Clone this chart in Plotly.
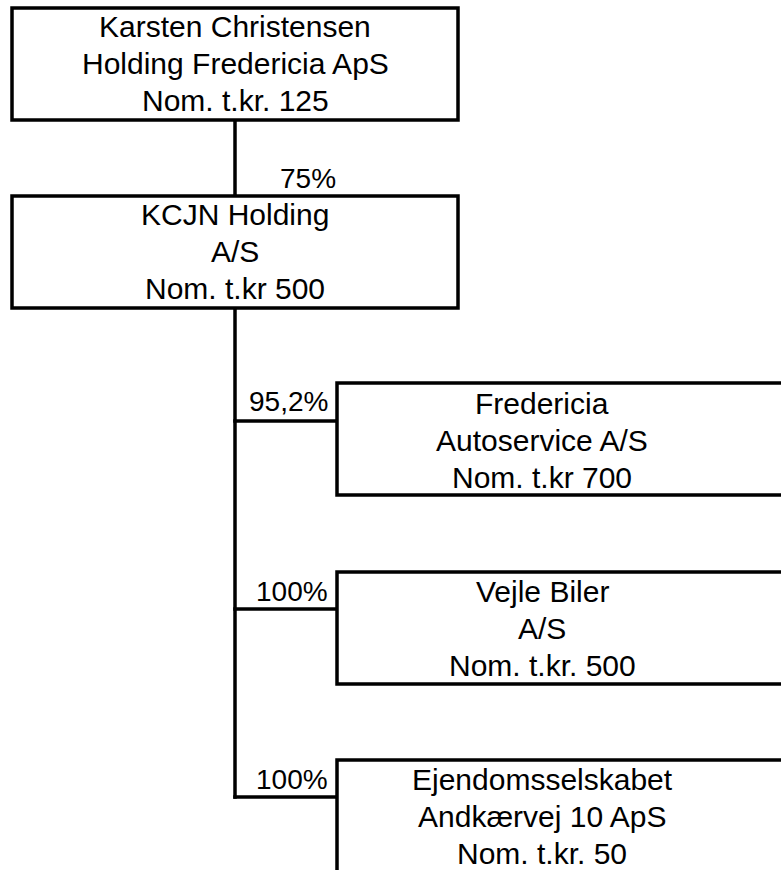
import plotly.graph_objects as go

# ---- data ----
entity_names = [
    ["Karsten Christensen", "Holding Fredericia ApS"],
    ["KCJN Holding", "A/S"],
    ["Fredericia", "Autoservice A/S"],
    ["Vejle Biler", "A/S"],
    ["Ejendomsselskabet", "Andkærvej 10 ApS"],
]
nominal_capital = ["Nom. t.kr. 125", "Nom. t.kr 500", "Nom. t.kr 700", "Nom. t.kr. 500", "Nom. t.kr. 50"]
ownership = [None, "75%", "95,2%", "100%", "100%"]
parent = [None, 0, 1, 1, 1]

# ---- layout (pixels) ----
W, H = 781, 870
boxes = [  # x0, y0, x1, y1
    (12, 8, 458, 120),
    (12, 196, 458, 308),
    (337, 383, 800, 495),
    (337, 572, 800, 684),
    (337, 760, 800, 900),
]
text_cx = [235, 235, 542, 542, 542]
text_cy = [63, 251, 440, 628, 816]
LINE_GAP = 37
trunk_x = 235
pct_pos = [None, (338, 178), (330, 401), (330, 591), (330, 779)]
branch_y = [None, None, 421, 609, 797]

FONT = "Liberation Sans, Arial, sans-serif"
LW = 3.5

fig = go.Figure()
fig.add_trace(go.Scatter(x=[0, W], y=[0, H], mode="markers", marker=dict(opacity=0),
                         hoverinfo="skip", showlegend=False))

shapes = []
annotations = []
for i, (x0, y0, x1, y1) in enumerate(boxes):
    shapes.append(dict(type="rect", xref="x", yref="y", x0=x0, y0=y0, x1=x1, y1=y1,
                       line=dict(color="black", width=LW), fillcolor="white", layer="below"))
    lines = entity_names[i] + [nominal_capital[i]]
    for k, txt in enumerate(lines):
        annotations.append(dict(x=text_cx[i], y=text_cy[i] + (k - 1) * LINE_GAP, xref="x", yref="y",
                                text=txt, showarrow=False, xanchor="center", yanchor="middle",
                                font=dict(family=FONT, size=30, color="black")))
    if ownership[i] is not None:
        px, py = pct_pos[i]
        annotations.append(dict(x=px, y=py, xref="x", yref="y", text=ownership[i],
                                showarrow=False, xanchor="right", yanchor="middle",
                                font=dict(family=FONT, size=28, color="black")))

# connectors
shapes.append(dict(type="line", xref="x", yref="y", x0=trunk_x, x1=trunk_x,
                   y0=boxes[0][3], y1=boxes[1][1], line=dict(color="black", width=LW)))
shapes.append(dict(type="line", xref="x", yref="y", x0=trunk_x, x1=trunk_x,
                   y0=boxes[1][3], y1=branch_y[-1] + 1.75, line=dict(color="black", width=LW)))
for i in range(2, 5):
    shapes.append(dict(type="line", xref="x", yref="y", x0=trunk_x - 1.75, x1=boxes[i][0],
                       y0=branch_y[i], y1=branch_y[i], line=dict(color="black", width=LW)))

fig.update_layout(
    width=W, height=H, margin=dict(l=0, r=0, t=0, b=0),
    paper_bgcolor="white", plot_bgcolor="white",
    xaxis=dict(range=[0, W], visible=False, fixedrange=True),
    yaxis=dict(range=[H, 0], visible=False, fixedrange=True),
    shapes=shapes, annotations=annotations, showlegend=False,
)
fig.write_html("out.html", config={"displayModeBar": False},
               post_script="document.body.style.margin='0';document.body.style.overflow='hidden';")
